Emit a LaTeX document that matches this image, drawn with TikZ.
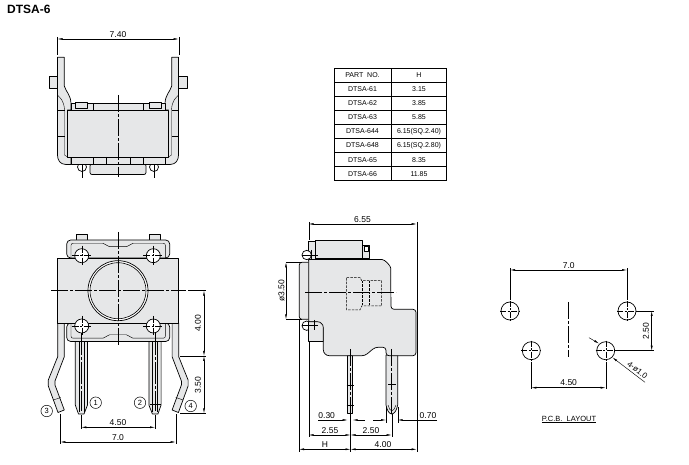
\documentclass[tikz,border=0pt]{standalone}
\usepackage{fontspec}
\setmainfont{Liberation Sans}
\usetikzlibrary{arrows.meta}
\definecolor{bodygray}{HTML}{E6E7E8}
\newcommand{\fsize}[1]{\fontsize{#1}{#1}\selectfont}
\tikzset{
  part/.style={draw,fill=bodygray,line width=.7pt,line join=round},
  thin part/.style={draw,line width=.4pt},
  hole/.style={draw,fill=white,line width=.7pt},
  hidden/.style={draw,line width=.5pt,dash pattern=on 2.5pt off 1.2pt},
  axis/.style={draw,line width=.5pt,dash pattern=on 17pt off 2pt on 3pt off 2pt},
  ext/.style={draw,line width=.4pt},
  dimline/.style={draw,line width=.45pt,{Latex[length=5pt,width=2pt]}-{Latex[length=5pt,width=2pt]}},
  tip in/.style={draw,line width=.45pt,-{Latex[length=5pt,width=2pt]}},
  dimtext/.style={font=\fsize{8.5},inner sep=0pt},
  pinno/.style={draw,circle,line width=.5pt,minimum size=11.5pt,inner sep=0pt,font=\fsize{7.5}},
  celltext/.style={font=\fsize{7},inner sep=0pt},
}
\begin{document}
\begin{tikzpicture}[x=1pt,y=-1pt]
  \useasboundingbox (0,0) rectangle (689,465);
  \node[font=\bfseries\fsize{12},anchor=west,inner sep=0pt] (title) at (7,9.5) {DTSA-6};

  % top view
  \fill[white] (0,30) rectangle (1,31);
  \path[part] (90,164) -- (90,171) [rounded corners=2pt] -- (90,174.5) -- (146,174.5) -- (146,164) -- cycle;
  \foreach \m in {0,1} {
    \begin{scope}[shift={(236*\m,0)},xscale=1-2*\m]
      \path[hole] (82,167) circle[radius=4.5];
      \path[ext] (82,155) -- (82,178);
      \path[part] (49,76) rectangle (57.5,88);
      \path[part] (57.5,57.3) -- (64.3,57.3) -- (64.3,86) .. controls (66,92) and (71,95) .. (71,104) -- (71,110)
        -- (67.5,110) -- (67.5,157) -- (71,157) -- (71,164.5) -- (66,164.5) .. controls (60,164.5) and (57.5,160) .. (57.5,155) -- cycle;
      \path[thin part] (57.5,95) .. controls (60,98) and (64,100) .. (64.5,110) -- (64.5,155) -- (67.5,157);
      \path[thin part] (57.5,110) -- (64.5,110) (57.5,136) -- (64.5,136);
      \path[part] (71,103) rectangle (93,110);
      \path[part] (75,102) rectangle (87,108);
      \path[part] (71,157) rectangle (93,164.5);
    \end{scope}
  }
  \path[part] (93,103) rectangle (143,110);
  \path[part] (67.5,110) rectangle (168.5,157);
  \path[part] (93,157) rectangle (143,164.5);
  \path[thin part] (106,157) -- (106,164.5) (130,157) -- (130,164.5);
  \path[axis] (118,95) -- (118,177);
  \path[ext] (57.5,37) -- (57.5,55) (178.7,37) -- (178.7,55);
  \path[dimline] (57.5,39) -- (178.7,39);
  \node[dimtext] (topwidth) at (118,34.5) {7.40};

  % part number table
  \draw[line width=.9pt] (334.3,68.3) rectangle (446.7,180.7);
  \draw[line width=.6pt] (391,68.3) -- (391,180.7);
  \node[celltext] (headpart) at (362.5,75.3) {PART\ \ NO.};
  \node[celltext] (headh) at (419,75.3) {H};
  \foreach \i/\pn/\hval in {1/DTSA-61/3.15,2/DTSA-62/3.85,3/DTSA-63/5.85,4/DTSA-644/6.15(SQ.2.40),5/DTSA-648/6.15(SQ.2.80),6/DTSA-65/8.35,7/DTSA-66/11.85} {
    \draw[line width=.6pt] (334.3,68.3+14.05*\i) -- (446.7,68.3+14.05*\i);
    \node[celltext] (pn\i) at (362.5,75.3+14.05*\i) {\pn};
    \node[celltext] (hv\i) at (419,75.3+14.05*\i) {\hval};
  }

  % front view
  \foreach \m in {0,1} {
    \begin{scope}[shift={(236.4*\m,0)},xscale=1-2*\m]
      \path[part] (57.7,323) -- (64.3,323) -- (64.3,356.7) -- (55,381) -- (55,385) -- (64.3,410) -- (58,412.5) -- (48.3,386) -- (48.3,380) -- (57.7,356.7) -- cycle;
      \path[thin part] (53.3,400) -- (60.7,397.5);
      \path[part] (75.3,341) -- (75.3,405) -- (78.5,414) -- (84,414) -- (87.5,405) -- (87.5,341) -- cycle;
      \path[thin part] (79,341) -- (79,412) (84,341) -- (84,412);
    \end{scope}
  }
  \path[thin part] (150,404) -- (160.5,404);
  \path[part] (76,240) -- (76,234) -- (87,234) -- (87,240);
  \path[part] (149,240) -- (149,234) -- (160,234) -- (160,240);
  \path[part,rounded corners=4pt] (66.7,258) -- (66.7,240) -- (169.7,240) -- (169.7,258) -- cycle;
  \path[part,rounded corners=4pt] (66.7,323) -- (66.7,341.5) -- (169.7,341.5) -- (169.7,323) -- cycle;
  \foreach \ya/\yb/\yc/\yd in {258/243.3/246.7/243.3,323/338.2/334.8/338.2} {
    \path[thin part,rounded corners=2pt] (71,\ya) -- (71,\yb) -- (105,\yb) -- (107.5,\yc) -- (128.5,\yc) -- (131,\yd) -- (165.4,\yd) -- (165.4,\ya);
  }
  \path[part] (57.7,258) rectangle (178.7,323);
  \path[hole] (118,290.7) circle[radius=30];
  \path[draw,fill=bodygray,line width=.6pt] (118,290.7) circle[radius=28];
  \foreach \cx/\cy in {81.7/255.7,153.3/255.7,81.7/326,153.3/326} {
    \path[hole] (\cx,\cy) circle[radius=7];
    \path[ext,dash pattern=on 7pt off 1.5pt on 2pt off 1.5pt] (\cx-10,\cy) -- (\cx+10,\cy) (\cx,\cy-10) -- (\cx,\cy+10);
  }
  \path[axis] (118,232) -- (118,345);
  \path[axis] (51,290.7) -- (186,290.7);
  \path[ext,dash pattern=on 22pt off 2pt on 3pt off 2pt] (81.3,333) -- (81.3,411) (155,333) -- (155,411);
  \node[pinno] (pin3) at (46.7,411) {3};
  \node[pinno] (pin1) at (95.7,402.7) {1};
  \node[pinno] (pin2) at (140,402.7) {2};
  \node[pinno] (pin4) at (190.7,406) {4};
  \path[ext] (81.3,415) -- (81.3,429) (155,415) -- (155,429);
  \path[ext] (60.3,414) -- (60.3,444) (175.7,414) -- (175.7,444);
  \path[dimline] (81.3,427.3) -- (155,427.3);
  \path[dimline] (60.3,442) -- (175.7,442);
  \node[dimtext] (frontpins) at (118,423) {4.50};
  \node[dimtext] (frontleads) at (118,437.5) {7.0};
  \path[ext] (188,290.7) -- (206,290.7) (180,356) -- (206,356) (180,413.3) -- (206,413.3);
  \path[dimline] (204,290.7) -- (204,356);
  \path[dimline] (204,356) -- (204,413.3);
  \node[dimtext,rotate=90] (frontbody) at (198,323.5) {4.00};
  \node[dimtext,rotate=90] (frontlen) at (198,385) {3.50};

  % side view
  \path[part] (347.7,355) -- (347.7,413.3) -- (352.7,413.3) -- (352.7,355) -- cycle;
  \path[part] (386,355) -- (386,405) .. controls (387,410) and (389,414) .. (391.7,414) .. controls (394.5,414) and (396.7,410) .. (397.7,405) -- (397.7,355) -- cycle;
  \path[thin part] (388,405) .. controls (389,408) and (390,411) .. (391.7,411) .. controls (393.5,411) and (395,408) .. (396,405);
  \path[part] (362.7,245) rectangle (369.3,258.3);
  \path[part,fill=white] (364.3,246.7) rectangle (368.7,251);
  \path[part] (315,240) rectangle (362.7,258.3);
  \path[part] (308.7,241.7) rectangle (315,260);
  \path[hole] (306.7,255) circle[radius=4.7];
  \path[hole] (306.7,325.7) circle[radius=4.7];
  \path[part,rounded corners=2.5pt] (308.7,262.3) -- (299.3,262.3) -- (299.3,319.3) -- (308.7,319.3);
  \path[part] (308.7,321.7) -- (308.7,341.7) -- (323.3,341.7) -- (323.3,321.7) -- cycle;
  \path[part,rounded corners=6pt] (308.7,259.5) -- (376,259.5) .. controls (385,259.5) and (390.7,266) .. (390.7,274) [rounded corners=3pt] -- (391,309.3) -- (416,309.3) -- (416,355.7) -- (386,355.7) -- (386,347.3) -- (375,347.3) -- (365,355.7) [rounded corners=6pt] -- (323.3,355.7) -- (323.3,321.7) [sharp corners] -- (308.7,321.7) -- cycle;
  \path[hidden] (346.7,277.3) -- (360,277.3) -- (361.7,280.7) -- (381.7,280.7) -- (381.7,306) -- (361.7,306) -- (360,310) -- (346.7,310) -- cycle;
  \path[hidden] (369.3,280.7) -- (369.3,306) (362,280.7) -- (362,306);
  \path[axis] (305,292.7) -- (396,292.7);
  \path[ext] (301.7,255) -- (318.3,255) (301.7,325.7) -- (318.3,325.7) (311,250) -- (311,260) (314,320) -- (314,330);
  \path[axis] (350.2,349) -- (350.2,414);
  \path[axis] (391.7,349) -- (391.7,414);
  \path[ext] (346.7,385) -- (353.7,385) (346.7,405) -- (353.7,405) (388,384) -- (396,384);
  \path[ext] (286,262.3) -- (302,262.3) (286,319.3) -- (302,319.3);
  \path[dimline] (286,262.3) -- (286,319.3);
  \node[dimtext,rotate=90] (sidedia) at (281.5,291) {ø3.50};
  \path[ext] (308.7,222) -- (308.7,240) (416.7,222) -- (416.7,452) (308.7,342) -- (308.7,437) (299,320) -- (299,452) (350.5,414) -- (350.5,452) (391.7,414) -- (391.7,437) (386,407) -- (386,423) (397.7,407) -- (397.7,423);
  \path[dimline] (308.7,224) -- (416.7,224);
  \node[dimtext] (sidewidth) at (362.5,219.5) {6.55};
  \path[tip in] (318,420) -- (347.7,420);
  \path[tip in] (365,420) -- (352.7,420);
  \path[tip in] (373,420) -- (386,420);
  \path[tip in] (437,420) -- (397.7,420);
  \node[dimtext] (sidepin) at (326.7,415.3) {0.30};
  \node[dimtext] (sideblade) at (428,415.3) {0.70};
  \path[dimline] (308.7,435) -- (350.5,435);
  \path[dimline] (350.5,435) -- (391.7,435);
  \node[dimtext] (sidea) at (330,430.3) {2.55};
  \node[dimtext] (sideb) at (371,430.3) {2.50};
  \path[dimline] (299,449.3) -- (350.5,449.3);
  \path[dimline] (350.5,449.3) -- (416.7,449.3);
  \node[dimtext] (sideh) at (325,444.5) {H};
  \node[dimtext] (sidec) at (383,444.5) {4.00};

  % pcb layout
  \foreach \name/\hx/\hy in {holea/510/311,holeb/627/311,holec/531.3/350.7,holed/605.7/350.7} {
    \coordinate (\name) at (\hx,\hy);
    \path[hole] (\name) circle[radius=9];
    \path[ext,dash pattern=on 6pt off 1.5pt on 2pt off 1.5pt] (\hx-10,\hy) -- (\hx+10,\hy) (\hx,\hy-10) -- (\hx,\hy+10);
  }
  \path[axis] (568.7,302) -- (568.7,357);
  \path[ext] (holea) ++(0,-11) -- (510,268) (holeb) ++(0,-11) -- (627,268);
  \path[ext] (holec) ++(0,11) -- (531.3,389.5) (holed) ++(0,11) -- (605.7,389.5);
  \path[ext] (holeb) ++(10,0) -- (654,311) (holed) ++(10,0) -- (654,350.7);
  \path[dimline] (510,270) -- (627,270);
  \path[dimline] (531.3,387.7) -- (605.7,387.7);
  \path[dimline] (651.7,311) -- (651.7,350.7);
  \node[dimtext] (pcbwidth) at (568.7,265.5) {7.0};
  \node[dimtext] (pcbrow) at (568.7,383) {4.50};
  \node[dimtext,rotate=90] (pcbgap) at (646,331) {2.50};
  \path[tip in] (589,337.7) -- (599,343.5);
  \path[tip in] (645,382.3) -- (612.5,357.5);
  \node[dimtext,rotate=-38,font=\fsize{8}] (pcbdia) at (637.5,370) {4-ø1.0};
  \node[font=\fsize{7.5},inner sep=0pt] (pcblabel) at (569,419.5) {\underline{P.C.B.\ \ LAYOUT}};
\end{tikzpicture}
\end{document}
